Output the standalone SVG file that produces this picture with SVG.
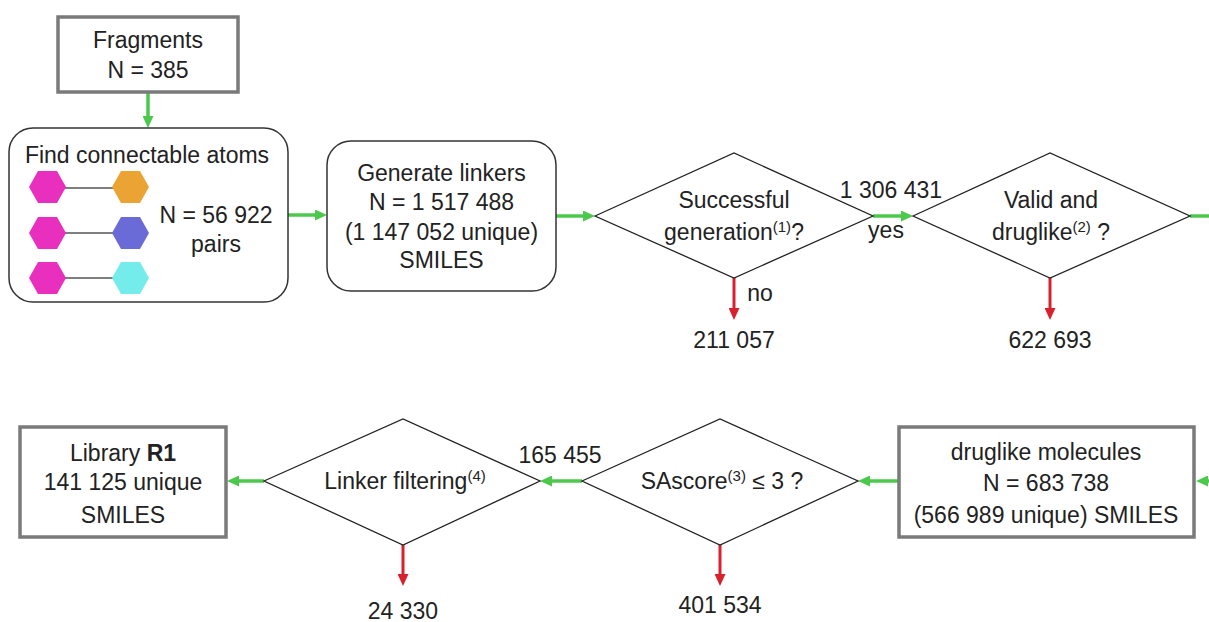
<svg xmlns="http://www.w3.org/2000/svg" width="1209" height="622" viewBox="0 0 1209 622">
<style>
text{font-family:"Liberation Sans",Arial,sans-serif;font-size:23px;fill:#222;text-anchor:middle}
.sup{font-size:15px}
.box{fill:#fff;stroke:#7a7a7a;stroke-width:3.5}
.rbox{fill:#fff;stroke:#333;stroke-width:1.5}
.dia{fill:#fff;stroke:#222;stroke-width:1.3}
.g{stroke:#4cc94c;stroke-width:3.5;fill:none}
.r{stroke:#d9212e;stroke-width:3;fill:none}
.bond{stroke:#555;stroke-width:1.3}
</style>
<defs>
<marker id="ag" viewBox="0 0 12 11" refX="0" refY="5.5" markerWidth="12" markerHeight="11" markerUnits="userSpaceOnUse" orient="auto"><path d="M0,0 L12,5.5 L0,11 z" fill="#4cc94c"/></marker>
<marker id="ar" viewBox="0 0 12 11" refX="0" refY="5.5" markerWidth="12" markerHeight="11" markerUnits="userSpaceOnUse" orient="auto"><path d="M0,0 L12,5.5 L0,11 z" fill="#d9212e"/></marker>
<path id="hex" d="M-18.5,0 L-9.5,-16 L9.5,-16 L18.5,0 L9.5,16 L-9.5,16 z"/>
</defs>

<g id="connectors">
<line class="g" x1="148" y1="92" x2="148" y2="116" marker-end="url(#ag)"/>
<line class="g" x1="288" y1="215" x2="315" y2="215" marker-end="url(#ag)"/>
<line class="g" x1="556" y1="216" x2="583" y2="216" marker-end="url(#ag)"/>
<line class="g" x1="873" y1="216" x2="901" y2="216" marker-end="url(#ag)"/>
<line class="g" x1="1190" y1="216" x2="1212" y2="216"/>
<line class="r" x1="734" y1="278" x2="734" y2="308" marker-end="url(#ar)"/>
<line class="r" x1="1050" y1="278" x2="1050" y2="308" marker-end="url(#ar)"/>
<line class="g" x1="1215" y1="481" x2="1208" y2="481" marker-end="url(#ag)"/>
<line class="g" x1="899" y1="481" x2="870" y2="481" marker-end="url(#ag)"/>
<line class="g" x1="582" y1="481" x2="552" y2="481" marker-end="url(#ag)"/>
<line class="g" x1="264" y1="481" x2="239" y2="481" marker-end="url(#ag)"/>
<line class="r" x1="720" y1="545" x2="720" y2="574" marker-end="url(#ar)"/>
<line class="r" x1="403" y1="545" x2="403" y2="574" marker-end="url(#ar)"/>
</g>

<g id="fragments">
<rect class="box" x="58" y="17" width="180" height="75"/>
<text x="148" y="48">Fragments</text>
<text x="148" y="78">N = 385</text>
</g>

<g id="find-connectable">
<rect class="rbox" x="9" y="128" width="279" height="174" rx="24"/>
<text x="147" y="163">Find connectable atoms</text>
<line class="bond" x1="60" y1="188" x2="120" y2="188"/>
<line class="bond" x1="60" y1="233" x2="120" y2="233"/>
<line class="bond" x1="60" y1="278" x2="120" y2="278"/>
<use href="#hex" x="47.5" y="187" fill="#e92fbd"/>
<use href="#hex" x="130.5" y="187" fill="#eba434"/>
<use href="#hex" x="47.5" y="233" fill="#e92fbd"/>
<use href="#hex" x="130.5" y="233" fill="#6b6bd7"/>
<use href="#hex" x="47.5" y="278" fill="#e92fbd"/>
<use href="#hex" x="130.5" y="278" fill="#74ecec"/>
<text x="216" y="223">N = 56 922</text>
<text x="216" y="252">pairs</text>
</g>

<g id="generate-linkers">
<rect class="rbox" x="327" y="141" width="229" height="150" rx="24"/>
<text x="441.5" y="181">Generate linkers</text>
<text x="441.5" y="210">N = 1 517 488</text>
<text x="441.5" y="240">(1 147 052 unique)</text>
<text x="441.5" y="268">SMILES</text>
</g>

<g id="successful-generation">
<polygon class="dia" points="595,216 734,153 873,216 734,278"/>
<text x="734" y="208">Successful</text>
<text x="734" y="240">generation<tspan class="sup" dy="-8">(1)</tspan><tspan dy="8">?</tspan></text>
<text x="891" y="198">1 306 431</text>
<text x="886" y="238">yes</text>
<text x="760" y="301">no</text>
<text x="734" y="348">211 057</text>
</g>

<g id="valid-druglike">
<polygon class="dia" points="913,216 1050,153 1190,216 1050,278"/>
<text x="1051" y="208">Valid and</text>
<text x="1051" y="240">druglike<tspan class="sup" dy="-8">(2)</tspan><tspan dy="8"> ?</tspan></text>
<text x="1050" y="348">622 693</text>
</g>

<g id="druglike-molecules">
<rect class="box" x="899" y="427" width="295" height="110"/>
<text x="1046" y="460">druglike molecules</text>
<text x="1046" y="491">N = 683 738</text>
<text x="1046" y="523">(566 989 unique) SMILES</text>
</g>

<g id="sascore">
<polygon class="dia" points="582,481 720,419 858,481 720,545"/>
<text x="722" y="489">SAscore<tspan class="sup" dy="-8">(3)</tspan><tspan dy="8"> ≤ 3 ?</tspan></text>
<text x="720" y="613">401 534</text>
</g>

<g id="linker-filtering">
<polygon class="dia" points="264,481 403,419 540,481 403,545"/>
<text x="405" y="489">Linker filtering<tspan class="sup" dy="-8">(4)</tspan></text>
<text x="560" y="463">165 455</text>
<text x="403" y="619">24 330</text>
</g>

<g id="library-r1">
<rect class="box" x="20" y="427" width="206" height="110"/>
<text x="123" y="461">Library <tspan font-weight="bold">R1</tspan></text>
<text x="123" y="490">141 125 unique</text>
<text x="123" y="523">SMILES</text>
</g>
</svg>
